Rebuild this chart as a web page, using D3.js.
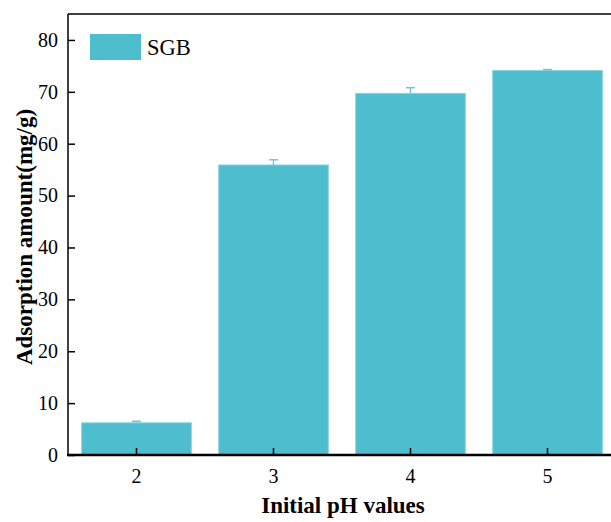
<!DOCTYPE html>
<html>
<head>
<meta charset="utf-8">
<script src="https://cdn.jsdelivr.net/npm/d3@7"></script>
<style>
  body { margin: 0; background: #fff; }
  svg { display: block; font-family: "Liberation Serif", "Times New Roman", serif; }
</style>
</head>
<body>
<div id="chart_div"></div>
<script>
// data
const phValues = ["2", "3", "4", "5"];
const adsorption = [6.2, 55.9, 69.7, 74.1];
const errors = [0.3, 1.0, 1.1, 0.2];
const yTicks = [0, 10, 20, 30, 40, 50, 60, 70, 80];

const width = 611;
const height = 522;
const marginLeft = 68;
const marginTop = 14;
const plotBottom = 455;
const plotRight = 68 + 4 * 137; // plot runs past the window edge

const barColor = "#4ebdcd";

const svg = d3.select("#chart_div").append("svg")
  .attr("width", width)
  .attr("height", height);

const x = d3.scaleBand()
  .domain(phValues)
  .range([marginLeft, plotRight])
  .paddingInner(0.2)
  .paddingOuter(0.1);

const y = d3.scaleLinear()
  .domain([0, 85])
  .range([plotBottom, marginTop]);

// bars
svg.append("g")
  .selectAll("rect")
  .data(phValues)
  .join("rect")
  .attr("x", d => x(d))
  .attr("y", (d, i) => y(adsorption[i]))
  .attr("width", x.bandwidth())
  .attr("height", (d, i) => y(0) - y(adsorption[i]))
  .attr("fill", barColor)
  .attr("stroke", "#8ad3de")
  .attr("stroke-width", 1);

// error bars (only the upper half shows above the bar)
const err = svg.append("g")
  .attr("stroke", "#6fcad7")
  .attr("stroke-width", 1.5);

phValues.forEach((d, i) => {
  const cx = x(d) + x.bandwidth() / 2;
  err.append("line")
    .attr("x1", cx).attr("x2", cx)
    .attr("y1", y(adsorption[i])).attr("y2", y(adsorption[i] + errors[i]));
  err.append("line")
    .attr("x1", cx - 4.5).attr("x2", cx + 4.5)
    .attr("y1", y(adsorption[i] + errors[i])).attr("y2", y(adsorption[i] + errors[i]));
});

// frame top line
svg.append("line")
  .attr("x1", marginLeft).attr("x2", width)
  .attr("y1", marginTop).attr("y2", marginTop)
  .attr("stroke", "#000").attr("stroke-width", 1.5);

// y axis, ticks pointing inward
const yAxis = svg.append("g")
  .attr("transform", `translate(${marginLeft},0)`)
  .call(d3.axisRight(y).tickValues(yTicks).tickSize(7).tickFormat(d3.format("d")));
yAxis.select(".domain").remove();
yAxis.append("line")
  .attr("x1", 0).attr("x2", 0)
  .attr("y1", marginTop).attr("y2", plotBottom)
  .attr("stroke", "#000").attr("stroke-width", 1.5);
yAxis.selectAll(".tick line").attr("stroke-width", 1.5);
yAxis.selectAll(".tick text")
  .attr("x", -10)
  .attr("text-anchor", "end")
  .attr("font-size", 20)
  .attr("font-family", "Liberation Serif")
  .attr("fill", "#000");

// x axis, ticks pointing up into the plot
const xAxis = svg.append("g")
  .attr("transform", `translate(0,${plotBottom})`)
  .call(d3.axisTop(x).tickSize(7));
xAxis.select(".domain").remove();
xAxis.append("line")
  .attr("x1", marginLeft - 1).attr("x2", width)
  .attr("y1", 0).attr("y2", 0)
  .attr("stroke", "#000").attr("stroke-width", 2.5);
xAxis.selectAll(".tick line").attr("stroke-width", 1.5);
xAxis.selectAll(".tick text")
  .attr("y", 28)
  .attr("font-size", 20)
  .attr("font-family", "Liberation Serif")
  .attr("fill", "#000");

// axis titles
svg.append("text")
  .attr("x", 343)
  .attr("y", 513)
  .attr("text-anchor", "middle")
  .attr("font-size", 23)
  .attr("font-weight", "bold")
  .text("Initial pH values");

svg.append("text")
  .attr("transform", "translate(32,237) rotate(-90)")
  .attr("text-anchor", "middle")
  .attr("font-size", 23)
  .attr("font-weight", "bold")
  .text("Adsorption amount(mg/g)");

// legend
const legend = svg.append("g");
legend.append("rect")
  .attr("x", 90).attr("y", 34)
  .attr("width", 51).attr("height", 26)
  .attr("fill", barColor);
legend.append("text")
  .attr("x", 147).attr("y", 55)
  .attr("font-size", 22.5)
  .text("SGB");
</script>
</body>
</html>
